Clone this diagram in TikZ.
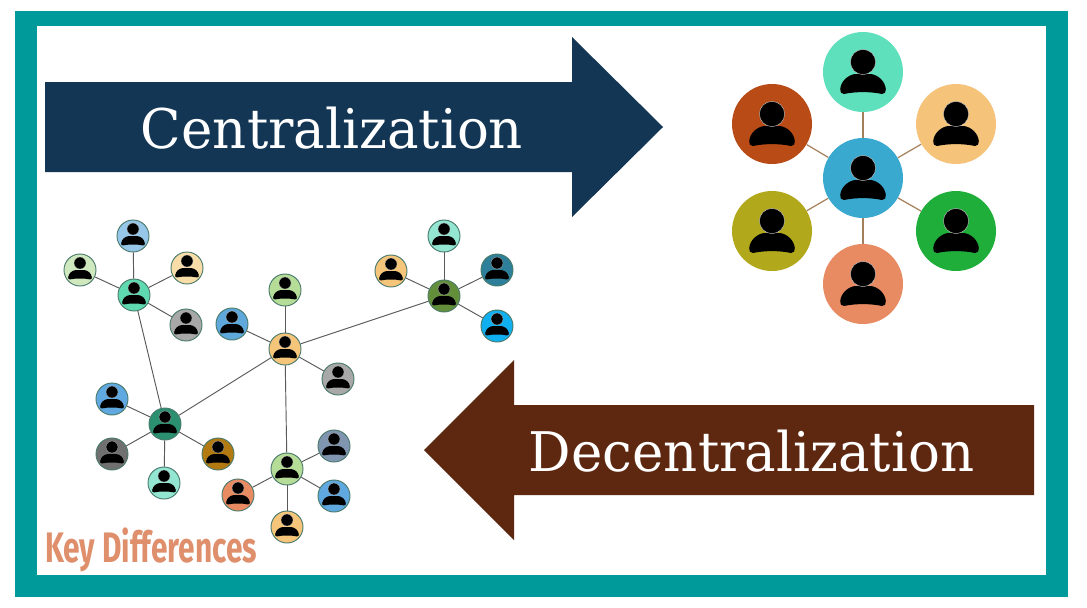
\documentclass[tikz,border=0pt]{standalone}
\usepackage{fontspec}
\setmainfont{DejaVu Serif}
\newfontfamily\keyfont{Fira Sans}
\definecolor{frameteal}{HTML}{009A9A}
\definecolor{navyarrow}{HTML}{123654}
\definecolor{brownarrow}{HTML}{5E2710}
\definecolor{keyorange}{HTML}{DF8F6B}
\definecolor{ringcol}{HTML}{4A7A6C}
\tikzset{
  x=0.75pt,y=-0.75pt,
  bigperson/.style={circle,minimum size=60pt,inner sep=0pt},
  smallperson/.style={circle,minimum size=24pt,inner sep=0pt,draw=ringcol,line width=0.7pt},
  biglink/.style={draw=brown!75!black,line width=0.9pt,opacity=.8},
  smalllink/.style={draw=black!65,line width=0.7pt},
  title/.style={text=white,font=\fontsize{41}{46}\selectfont,inner sep=0pt,anchor=base,transform shape},
  person/.pic={
    \fill[black] (-19,22) .. controls (-22,22) and (-23,20) .. (-22.8,17)
      .. controls (-22,9) and (-15,3) .. (-8,2) -- (8,2)
      .. controls (15,3) and (22,9) .. (22.8,17)
      .. controls (23,20) and (22,22) .. (19,22)
      .. controls (8,19.5) and (-8,19.5) .. (-19,22) -- cycle;
    \filldraw[black,draw=white!80!black,line width=0.3pt] (0,-10) circle [radius=12.6];
  },
  tinyperson/.pic={
    \fill[black] (-10,9.4) .. controls (-11.5,9.4) and (-12,8.5) .. (-11.8,7)
      .. controls (-11,3) and (-8,0.5) .. (-4,0) -- (4,0)
      .. controls (8,0.5) and (11,3) .. (11.8,7)
      .. controls (12,8.5) and (11.5,9.4) .. (10,9.4)
      .. controls (4,8.2) and (-4,8.2) .. (-10,9.4) -- cycle;
    \filldraw[black,draw=white!80!black,line width=0.2pt] (0,-7) circle [radius=6];
  }
}
\newcommand{\bigp}[3]{\definecolor{tmpc}{HTML}{#3}\node[bigperson,fill=tmpc] (#1) at (#2) {}; \pic at (#1) {person};}
\newcommand{\smallp}[3]{\definecolor{tmpc}{HTML}{#3}\node[smallperson,fill=tmpc] (#1) at (#2) {}; \pic at (#1) {tinyperson};}
\begin{document}
\begin{tikzpicture}
\useasboundingbox (0,0) rectangle (1087,607);
\fill[white] (0,0) rectangle (1087,607);
\fill[frameteal] (15,11) rectangle (1068,597);
\fill[white] (37,26) rectangle (1046,575);
% arrows
\fill[navyarrow] (45,82) -- (572,82) -- (572,37) -- (663,127) -- (572,217) -- (572,172) -- (45,172) -- cycle;
\fill[brownarrow] (1034,405) -- (514,405) -- (514,360) -- (424,450) -- (514,540) -- (514,495) -- (1034,495) -- cycle;
\node[title,xscale=0.97] (ctitle) at (332,148) {Centralization};
\node[title,xscale=0.97] (dtitle) at (751.5,471) {Decentralization};
\node[text=keyorange,font=\keyfont\bfseries\fontsize{32}{36}\selectfont,inner sep=0pt,anchor=base west,xscale=0.70,transform shape] (key) at (45,562) {Key Differences};
% big star
\bigp{bc}{863,178}{3AA9CF}
\bigp{bt}{863,72}{5FE0BC}
\bigp{btl}{772,124}{B84B16}
\bigp{btr}{956,124}{F5C47A}
\bigp{bbl}{772,231}{B2A81B}
\bigp{bbr}{956,231}{1FAE3A}
\bigp{bb}{863,284}{E88B63}
\foreach \n in {bt,btl,btr,bbl,bbr,bb} \draw[biglink] (bc) -- (\n);
% small network
\smallp{a0}{134,295}{5FD9B0}
\smallp{a1}{133,236}{97C7E8}
\smallp{a2}{80,270}{CFE8BE}
\smallp{a3}{187,268}{F8DDA8}
\smallp{a4}{186,325}{A8A8A8}
\smallp{b0}{285,349}{F5C57A}
\smallp{b1}{285,290}{B5DD98}
\smallp{b2}{232,324}{5FA8DC}
\smallp{b3}{338,379}{A8A8A8}
\smallp{c0}{444,296}{648F3A}
\smallp{c1}{444,236}{93E6D2}
\smallp{c2}{391,271}{F5C57A}
\smallp{c3}{497,270}{2D7F9A}
\smallp{c4}{497,326}{10AFEF}
\smallp{d0}{165,424}{2A9070}
\smallp{d1}{112,399}{5FA8E0}
\smallp{d2}{112,454}{707070}
\smallp{d3}{164,483}{93E6D2}
\smallp{d4}{218,454}{B27A10}
\smallp{e0}{287,469}{B5DD98}
\smallp{e1}{334,446}{7F95B0}
\smallp{e2}{334,496}{60A8E0}
\smallp{e3}{238,495}{E88B63}
\smallp{e4}{287,527}{F5C57A}
\foreach \p/\q in {a0/a1,a0/a2,a0/a3,a0/a4,a0/d0,b0/b1,b0/b2,b0/b3,b0/c0,b0/d0,b0/e0,c0/c1,c0/c2,c0/c3,c0/c4,d0/d1,d0/d2,d0/d3,d0/d4,e0/e1,e0/e2,e0/e3,e0/e4} \draw[smalllink] (\p) -- (\q);
\end{tikzpicture}
\end{document}
